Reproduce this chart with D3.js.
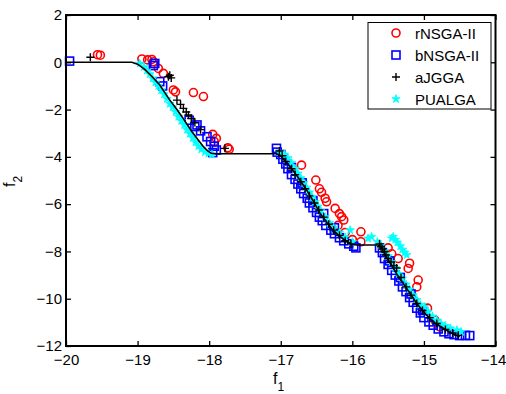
<!DOCTYPE html>
<html><head><meta charset="utf-8">
<script src="https://cdn.jsdelivr.net/npm/d3@7"></script>
<style>body{margin:0;background:#fff}svg{display:block}text{font-family:"Liberation Sans",Arial,sans-serif}</style>
</head><body><svg id="c" width="506" height="394"></svg>
<script>
// Reference Pareto front (black line)
const frontX = [-20,-19.08,-19.0,-18.90,-18.8,-18.69,-18.55,-18.45,-18.38,-18.24,-18.15,-18.08,-18.02,-17.97,-17.9,-17.06,-17.0,-16.87,-16.75,-16.64,-16.55,-16.45,-16.35,-16.27,-16.18,-16.08,-16.0,-15.94,-15.64,-15.6,-15.55,-15.47,-15.38,-15.29,-15.2,-15.10,-15.0,-14.92,-14.83,-14.73,-14.62,-14.50];
const frontY = [0,0,-0.08,-0.30,-0.6,-0.96,-1.60,-2.0,-2.30,-2.94,-3.30,-3.57,-3.75,-3.85,-3.87,-3.87,-3.95,-4.42,-4.9,-5.40,-5.85,-6.39,-6.8,-7.10,-7.35,-7.59,-7.7,-7.73,-7.73,-7.8,-8.1,-8.50,-8.95,-9.35,-9.75,-10.20,-10.57,-10.83,-11.06,-11.25,-11.45,-11.61];

// rNSGA-II
const rX = [-19.56,-19.52,-18.94,-18.86,-18.80,-18.78,-18.71,-18.64,-18.50,-18.47,-18.22,-18.08,-17.95,-17.90,-17.93,-17.74,-17.72,
  -16.71,-16.51,-16.46,-16.43,-16.38,-16.36,-16.24,-16.18,-16.15,-16.12,-16.20,-16.1,-16.0,-15.88,-15.88,
  -15.5,-15.45,-15.36,-15.22,-15.2,-15.08,-15.1,-14.95,-14.85,-14.78];
const rY = [0.32,0.30,0.14,0.10,0.12,0.02,-0.26,-0.47,-1.17,-1.25,-1.28,-1.45,-3.05,-3.22,-3.35,-3.62,-3.68,
  -4.35,-4.98,-5.35,-5.50,-5.75,-5.9,-6.18,-6.40,-6.53,-6.67,-6.9,-7.2,-7.5,-7.17,-7.59,
  -7.85,-8.1,-8.3,-8.72,-8.5,-9.21,-9.5,-10.4,-10.9,-11.19];

// bNSGA-II
const bX = [-19.95,-18.78,-18.76,-18.69,-18.65,-18.28,-18.2,-18.17,-18.12,-18.03,-17.98,-17.93,-17.90,-17.95,
  -17.06,-17.05,-17.0,-16.97,-16.93,-16.9,-16.85,-16.8,-16.76,-16.72,-16.68,-16.63,-16.6,-16.55,-16.5,-16.46,-16.42,-16.37,-16.3,-16.25,-16.18,-16.12,-16.05,-15.98,-15.95,-16.85,-16.7,-16.55,-16.4,-16.25,
  -15.62,-15.58,-15.55,-15.5,-15.45,-15.4,-15.35,-15.3,-15.25,-15.2,-15.15,-15.1,-15.05,-15.0,-14.93,-14.87,-14.8,-14.72,-14.65,-14.58,-14.5,-14.42,-14.36,-15.48,-15.33,-15.18,-15.02];
const bY = [0.05,-0.14,-0.05,-0.82,-1.0,-2.45,-2.72,-2.65,-2.9,-3.15,-3.35,-3.55,-3.71,-3.82,
  -3.64,-3.8,-3.9,-4.1,-4.3,-4.5,-4.75,-4.95,-5.15,-5.35,-5.55,-5.75,-5.95,-6.15,-6.35,-6.55,-6.7,-6.9,-7.1,-7.25,-7.42,-7.55,-7.68,-7.78,-7.85,-4.45,-5.1,-5.85,-6.4,-7.0,
  -7.85,-8.05,-8.3,-8.55,-8.8,-9.0,-9.25,-9.5,-9.7,-9.95,-10.15,-10.4,-10.6,-10.8,-10.98,-11.12,-11.28,-11.4,-11.48,-11.52,-11.56,-11.55,-11.56,-8.4,-9.1,-9.8,-10.5];

// aJGGA
const aX = [-19.66,-18.57,-18.55,-18.53,-18.45,-18.40,-18.36,-18.32,-18.29,-18.25,-18.2,-18.12,-17.78,
  -17.02,-16.98,-16.93,-16.85,-16.8,-16.72,-16.66,-16.6,-16.53,-16.47,-16.4,-16.33,-16.26,-16.18,-16.1,-16.02,
  -15.62,-15.6,-15.58,-15.55,-15.53,-15.5,-15.46,-15.42,-15.38,-15.32,-15.25,-15.18,-15.1,-15.02,-14.92,-14.82,-14.7,-14.6,-14.52];
const aY = [0.21,-0.61,-0.55,-0.66,-1.60,-1.78,-1.95,-2.1,-2.23,-2.38,-2.55,-2.85,-3.64,
  -3.75,-3.95,-4.2,-4.5,-4.75,-5.05,-5.35,-5.65,-5.95,-6.25,-6.55,-6.85,-7.1,-7.32,-7.55,-7.68,
  -7.68,-7.8,-7.9,-8.0,-8.15,-8.3,-8.45,-8.6,-8.7,-9.1,-9.5,-9.85,-10.2,-10.5,-10.8,-11.05,-11.3,-11.45,-11.55];

// PUALGA
const pX = [-18.97,-18.91,-18.87,-18.83,-18.79,-18.75,-18.71,-18.67,-18.63,-18.59,-18.55,-18.51,-18.47,-18.43,-18.39,-18.35,-18.31,-18.27,-18.23,-18.19,-18.15,-18.11,-18.06,-18.01,-17.96,
  -17.02,-16.95,-16.9,-16.85,-16.8,-16.76,-16.72,-16.68,-16.64,-16.6,-16.56,-16.52,-16.48,-16.44,-16.38,-16.32,-16.26,-16.18,-16.1,-16.03,-16.0,-15.73,-15.78,
  -15.65,-15.6,-15.55,-15.5,-15.45,-15.4,-15.35,-15.3,-15.25,-15.2,-15.15,-15.1,-15.05,-14.99,-14.94,-14.88,-14.82,-14.76,-14.7,-14.63,-14.54,-14.48,
  -15.43,-15.4,-15.37,-15.33,-15.3,-15.27,-15.24,-15.45];
const pY = [-0.05,-0.2,-0.35,-0.5,-0.68,-0.85,-1.0,-1.18,-1.35,-1.55,-1.75,-1.9,-2.1,-2.3,-2.48,-2.65,-2.85,-3.02,-3.2,-3.38,-3.55,-3.68,-3.8,-3.86,-3.9,
  -3.8,-3.9,-4.05,-4.25,-4.5,-4.7,-4.9,-5.1,-5.3,-5.5,-5.7,-5.9,-6.1,-6.3,-6.55,-6.8,-7.0,-7.2,-7.4,-7.1,-7.6,-7.38,-7.45,
  -7.6,-7.75,-7.98,-8.2,-8.45,-8.7,-8.95,-9.15,-9.4,-9.6,-9.85,-10.05,-10.25,-10.35,-10.55,-10.75,-10.92,-11.05,-11.15,-11.25,-11.33,-11.4,
  -7.38,-7.5,-7.62,-7.78,-7.92,-8.05,-8.15,-7.45];

const xTicks = [-20,-19,-18,-17,-16,-15,-14];
const yTicks = [2,0,-2,-4,-6,-8,-10,-12];
const legendNames = ["rNSGA-II","bNSGA-II","aJGGA","PUALGA"];

const L = 66, R = 495.5, T = 15, B = 346;
const x = d3.scaleLinear().domain([-20,-14]).range([L,R]);
const y = d3.scaleLinear().domain([-12,2]).range([B,T]);
const svg = d3.select("#c");
const font = "15px";

const pts = (xs, ys) => xs.map((v,i)=>[v, ys[i]]);

function circle(g, data){
  g.selectAll(null).data(data).enter().append("circle")
    .attr("cx",d=>x(d[0])).attr("cy",d=>y(d[1])).attr("r",4)
    .attr("fill","none").attr("stroke","#ff0000").attr("stroke-width",1.6);
}
function square(g, data){
  g.selectAll(null).data(data).enter().append("rect")
    .attr("x",d=>x(d[0])-4).attr("y",d=>y(d[1])-4).attr("width",8).attr("height",8)
    .attr("fill","none").attr("stroke","#0000ff").attr("stroke-width",1.6);
}
function plus(g, data){
  g.selectAll(null).data(data).enter().append("path")
    .attr("d",d=>{const cx=x(d[0]), cy=y(d[1]); return `M${cx-4},${cy}H${cx+4}M${cx},${cy-4}V${cy+4}`;})
    .attr("stroke","#000").attr("stroke-width",1.4).attr("fill","none");
}
const star = d3.symbol().type(d3.symbolStar).size(22);
function starM(g, data){
  g.selectAll(null).data(data).enter().append("path")
    .attr("transform",d=>`translate(${x(d[0])},${y(d[1])})`)
    .attr("d",star).attr("fill","#00ffff").attr("stroke","#00ffff").attr("stroke-width",0.8);
}

const plot = svg.append("g");
circle(plot.append("g"), pts(rX,rY));
square(plot.append("g"), pts(bX,bY));
starM(plot.append("g"), pts(pX,pY));
plus(plot.append("g"), pts(aX,aY));
plot.append("path").datum(pts(frontX,frontY))
  .attr("d", d3.line().x(d=>x(d[0])).y(d=>y(d[1])))
  .attr("fill","none").attr("stroke","#000").attr("stroke-width",1.6);

function styleAxis(g){
  g.select(".domain").remove();
  g.selectAll(".tick line").attr("stroke","#000").attr("stroke-width",1.3);
  g.selectAll("text").attr("font-size",font).attr("fill","#000").attr("font-family","Liberation Sans, Arial, sans-serif");
}
svg.append("g").attr("transform",`translate(0,${B})`)
  .call(d3.axisBottom(x).tickValues(xTicks).tickSize(-5).tickPadding(8).tickFormat(d3.format("d")))
  .call(styleAxis)
  .call(g=>g.selectAll(".tick text").filter(d=>d===-14).attr("dx",-2.5));
svg.append("g").attr("transform",`translate(0,${T})`)
  .call(d3.axisTop(x).tickValues(xTicks).tickSize(-5).tickFormat(""))
  .call(styleAxis);
svg.append("g").attr("transform",`translate(${L},0)`)
  .call(d3.axisLeft(y).tickValues(yTicks).tickSize(-5).tickPadding(4).tickFormat(d3.format("d")))
  .call(styleAxis);
svg.append("g").attr("transform",`translate(${R},0)`)
  .call(d3.axisRight(y).tickValues(yTicks).tickSize(-5).tickFormat(""))
  .call(styleAxis);
svg.append("rect").attr("x",L).attr("y",T).attr("width",R-L).attr("height",B-T)
  .attr("fill","none").attr("stroke","#000").attr("stroke-width",2);

const xl = svg.append("text").attr("x",273).attr("y",384).attr("font-size","16px");
xl.append("tspan").text("f");
xl.append("tspan").attr("font-size","12px").attr("dy",7).text("1");
const yl = svg.append("text").attr("transform","translate(15,187) rotate(-90)").attr("font-size","16px");
yl.append("tspan").text("f");
yl.append("tspan").attr("font-size","12px").attr("dy",7).text("2");

const lg = svg.append("g");
lg.append("rect").attr("x",368).attr("y",22.5).attr("width",123).attr("height",86.5)
  .attr("fill","#fff").attr("stroke","#000").attr("stroke-width",1);
const rowsY = [33,55,77,99];
const lx = 396;
const lgX = x.invert(lx);
circle(lg, [[lgX, y.invert(rowsY[0])]]);
square(lg, [[lgX, y.invert(rowsY[1])]]);
plus(lg, [[lgX, y.invert(rowsY[2])]]);
starM(lg, [[lgX, y.invert(rowsY[3])]]);
lg.selectAll(null).data(legendNames).enter().append("text")
  .attr("x",415).attr("y",(d,i)=>rowsY[i]+5.5).attr("font-size",font).text(d=>d);
</script></body></html>
